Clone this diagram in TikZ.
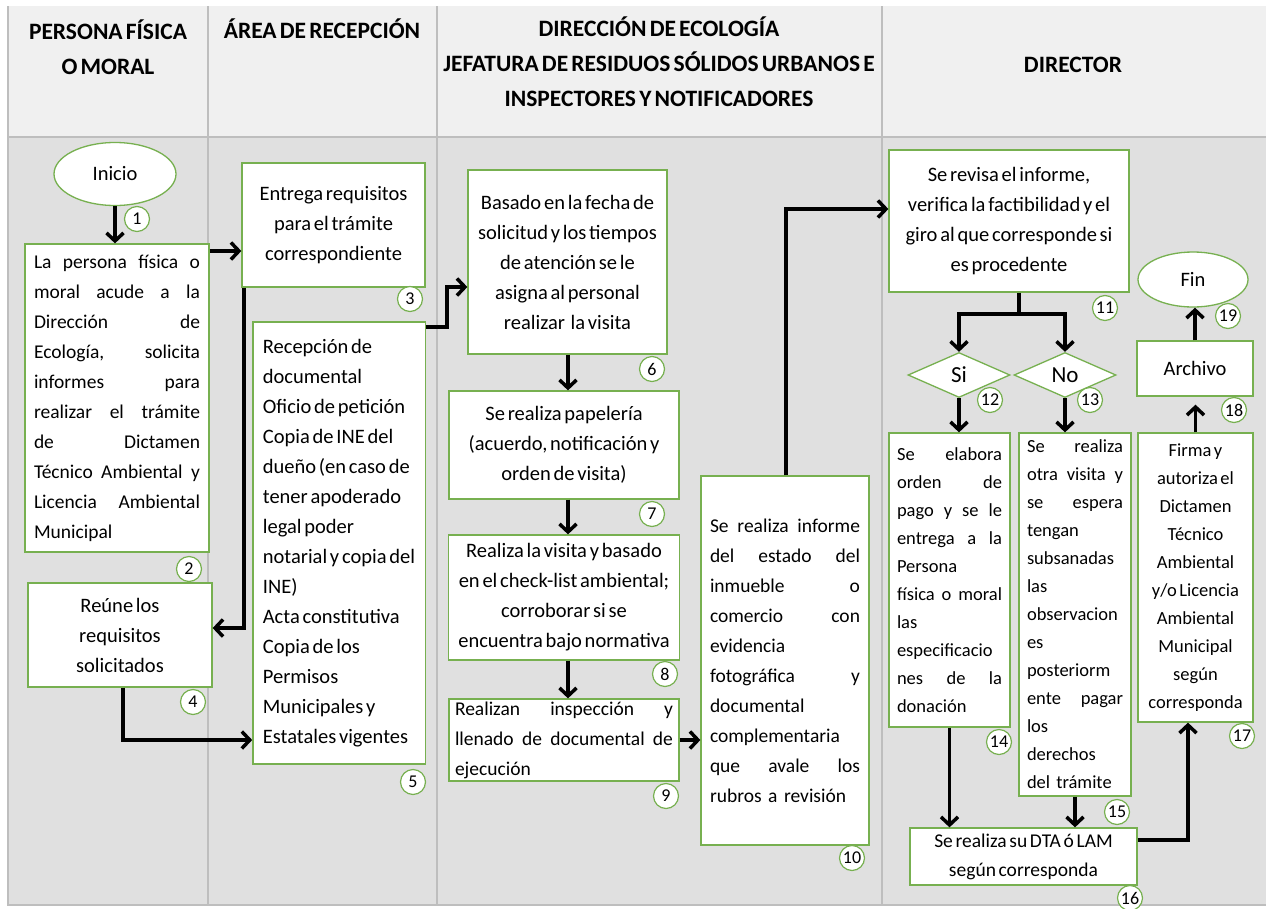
\documentclass[tikz,border=0pt]{standalone}
\usepackage{fontspec}
\setmainfont{Carlito}[WordSpace=0.6]
\usetikzlibrary{arrows.meta,shapes.geometric}

\definecolor{verde}{RGB}{119,176,80}
\definecolor{cabeza}{RGB}{240,240,240}
\definecolor{cuerpo}{RGB}{224,224,224}
\definecolor{raya}{RGB}{190,190,190}

\tikzset{
  paso/.style={draw=verde, line width=1.3pt, fill=white, inner xsep=10pt, inner ysep=2pt, font=\fontsize{20.5}{30}\selectfont},
  pasojust/.style={paso, font=\fontsize{19.5}{30}\selectfont},
  pasoder/.style={paso, font=\fontsize{18.5}{28}\selectfont},
  extremo/.style={ellipse, draw=verde, line width=1.3pt, fill=white, inner sep=0pt, font=\fontsize{20.5}{22}\selectfont},
  decision/.style={diamond, draw=verde, line width=1.3pt, fill=white, inner sep=0pt, minimum width=102pt, minimum height=45pt, font=\fontsize{23}{24}\selectfont},
  num/.style={circle, draw=verde, line width=1.2pt, fill=white, inner sep=0pt, minimum size=25pt, font=\fontsize{18}{18}\selectfont},
  titulo/.style={align=center, font=\fontsize{23.5}{35}\selectfont\bfseries},
  flecha/.style={line width=3.5pt, -{Straight Barb[length=8pt,width=17pt,line width=3.5pt]}},
  linea/.style={line width=3.5pt}
}

\begin{document}
\begin{tikzpicture}[x=1pt,y=1pt,yscale=-1]
\useasboundingbox (0,0) rectangle (1266,908);

%Shape: Rectangle [header]
\fill [white] (0,0) rectangle (1266,908);
\fill [cabeza] (8,6) rectangle (1266,137);
\fill [cuerpo] (8,137) rectangle (1266,905);
\draw [raya, line width=1.2pt] (8,6) -- (8,905) -- (1266,905);
\draw [raya, line width=1.2pt] (8,137) -- (1266,137);
\draw [raya, line width=1.2pt] (208,6) -- (208,905);
\draw [raya, line width=1.2pt] (437,6) -- (437,905);
\draw [raya, line width=1.2pt] (882,6) -- (882,905);

% Text Node
\node [titulo] (t1) at (108,47) {PERSONA FÍSICA\\O MORAL};
\node [titulo] (t2) at (322,29) {ÁREA DE RECEPCIÓN};
\node [titulo] (t3) at (659,62) {DIRECCIÓN DE ECOLOGÍA\\JEFATURA DE RESIDUOS SÓLIDOS URBANOS E\\INSPECTORES Y NOTIFICADORES};
\node [titulo] (t4) at (1073,65) {DIRECTOR};

%Shape: Ellipse [inicio]
\node [extremo, minimum width=122pt, minimum height=63pt] (ini) at (115,174) {Inicio};

%Shape: Rectangle [persona]
\node [pasojust, align=left, text width=166pt, inner xsep=9pt, minimum height=308pt] (p2) at (117,398) {La \hfill persona \hfill física \hfill o\\moral \hfill acude \hfill a \hfill la\\Dirección \hfill de\\Ecología, \hfill solicita\\informes \hfill para\\realizar \hfill el \hfill trámite\\de \hfill Dictamen\\Técnico \hfill Ambiental \hfill y\\Licencia \hfill Ambiental\\Municipal};
\node [paso, align=center, minimum width=183pt, minimum height=124pt] (p3) at (333.5,225) {Entrega requisitos\\para el trámite\\correspondiente};
\node [paso, align=center, minimum width=184pt, minimum height=104pt] (p4) at (120,635) {Reúne los\\requisitos\\solicitados};
\node [paso, align=left, minimum width=172pt, minimum height=442pt] (p5) at (339,543) {Recepción de\\documental\\Oficio de petición\\Copia de INE del\\dueño (en caso de\\tener apoderado\\legal poder\\notarial y copia del\\INE)\\Acta constitutiva\\Copia de los\\Permisos\\Municipales y\\Estatales vigentes};

%Shape: Rectangle [direccion]
\node [paso, align=center, minimum width=199pt, minimum height=184pt] (p6) at (567.5,262) {Basado en la fecha de\\solicitud y los tiempos\\de atención se le\\asigna al personal\\realizar~ la visita};
\node [paso, align=center, minimum width=230pt, minimum height=108pt] (p7) at (564,445) {Se realiza papelería\\(acuerdo, notificación y\\orden de visita)};
\node [paso, align=center, minimum width=230pt, minimum height=125pt] (p8) at (564,597.5) {Realiza la visita y basado\\en el check-list ambiental;\\corroborar si se\\encuentra bajo normativa};
\node [pasojust, align=left, text width=218pt, inner xsep=6pt, minimum height=82pt, inner ysep=0pt] (p9) at (564,740) {Realizan \hfill inspección \hfill y\\llenado \hfill de \hfill documental \hfill de\\ejecución};
\node [pasojust, align=left, text width=150pt, inner xsep=9pt, minimum height=369pt] (p10) at (785,660.5) {Se \hfill realiza \hfill informe\\del \hfill estado \hfill del\\inmueble \hfill o\\comercio \hfill con\\evidencia\\fotográfica \hfill y\\documental\\complementaria\\que \hfill avale \hfill los\\rubros a revisión};

%Shape: Rectangle [director]
\node [paso, align=center, minimum width=240pt, minimum height=142pt] (p11) at (1009,221) {Se revisa el informe,\\verifica la factibilidad y el\\giro al que corresponde si\\es procedente};
\node [decision] (si) at (959,375) {Si};
\node [decision] (no) at (1065,375) {No};
\node [pasoder, align=left, text width=105pt, inner xsep=8pt, minimum height=294pt] (p14) at (949.5,580) {Se \hfill elabora\\orden \hfill de\\pago \hfill y \hfill se \hfill le\\entrega \hfill a \hfill la\\Persona\\física \hfill o \hfill moral\\las\\especificacio\\nes \hfill de \hfill la\\donación};
\node [pasoder, align=left, text width=96pt, inner xsep=8pt, minimum height=363pt, inner ysep=0pt] (p15) at (1075,614.5) {Se \hfill realiza\\otra \hfill visita \hfill y\\se \hfill espera\\tengan\\subsanadas\\las\\observacion\\es\\posteriorm\\ente \hfill pagar\\los\\derechos\\del trámite};
\node [paso, align=center, minimum width=227pt, minimum height=57pt, inner ysep=0pt, font=\fontsize{19.5}{29}\selectfont] (p16) at (1023.5,856.5) {Se realiza su DTA ó LAM\\según corresponda};
\node [pasoder, align=center, minimum width=115pt, inner xsep=5pt, minimum height=289pt] (p17) at (1195.5,577.5) {Firma y\\autoriza el\\Dictamen\\Técnico\\Ambiental\\y/o Licencia\\Ambiental\\Municipal\\según\\corresponda};
\node [paso, align=center, minimum width=116pt, minimum height=55pt] (p18) at (1195,368.5) {Archivo};
\node [extremo, minimum width=110pt, minimum height=55pt] (fin) at (1193,279.5) {Fin};

%Straight Lines [conectores]
\coordinate (y23) at (0,251);
\coordinate (k34) at (244,628);
\coordinate (k45) at (123,740);
\coordinate (k56a) at (447,327);
\coordinate (k56) at (447,287);
\coordinate (xc) at (568,0);
\coordinate (k1011) at (786,209);
\coordinate (f) at (1019,314);
\coordinate (k1617) at (1188,840);

\draw [flecha] (ini.south) -- (ini.south |- p2.north);
\draw [flecha] (p2.east |- y23) -- (p3.west |- y23);
\draw [flecha] (k34 |- p3.south) -- (k34) -- (p4.east |- k34);
\draw [flecha] (k45 |- p4.south) -- (k45) -- (p5.west |- k45);
\draw [flecha] (k56a -| p5.east) -- (k56a) -- (k56) -- (k56 -| p6.west);
\draw [flecha] (xc |- p6.south) -- (xc |- p7.north);
\draw [flecha] (xc |- p7.south) -- (xc |- p8.north);
\draw [flecha] (xc |- p8.south) -- (xc |- p9.north);
\draw [flecha] (p9.east) -- (p10.west |- p9.east);
\draw [flecha] (k1011 |- p10.north) -- (k1011) -- (k1011 -| p11.west);
\draw [linea] (f |- p11.south) -- (f);
\draw [flecha] (f) -| (si.north);
\draw [flecha] (f) -| (no.north);
\draw [flecha] (si.south) -- (si.south |- p14.north);
\draw [flecha] (no.south) -- (no.south |- p15.north);
\draw [flecha] (p14.south) -- (p14.south |- p16.north);
\draw [flecha] (p15.south) -- (p15.south |- p16.north);
\draw [flecha] (p16.east |- k1617) -- (k1617) -- (k1617 |- p17.south);
\draw [flecha, shorten >=8pt] (p17.north) -- (p17.north |- p18.south);
\draw [flecha] (p18.north) -- (p18.north |- fin.south);

%Shape: Circle [numeros]
\node [num] (n1) at (137,219) {1};
\node [num] (n2) at (189,569) {2};
\node [num] (n3) at (410,299) {3};
\node [num] (n4) at (193,702) {4};
\node [num] (n5) at (413,782) {5};
\node [num] (n6) at (652,369) {6};
\node [num] (n7) at (652,514) {7};
\node [num] (n8) at (665,674) {8};
\node [num] (n9) at (666,796) {9};
\node [num] (n10) at (852,858) {10};
\node [num] (n11) at (1105,308) {11};
\node [num] (n12) at (990,400) {12};
\node [num] (n13) at (1090,400) {13};
\node [num] (n14) at (999,742) {14};
\node [num] (n15) at (1117,812) {15};
\node [num] (n16) at (1130,898) {16};
\node [num] (n17) at (1242,736) {17};
\node [num] (n18) at (1234,410) {18};
\node [num] (n19) at (1228,316) {19};

\end{tikzpicture}
\end{document}
